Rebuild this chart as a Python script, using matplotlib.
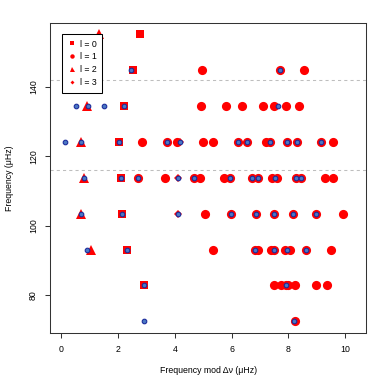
import matplotlib
matplotlib.use("Agg")
import matplotlib.pyplot as plt
from matplotlib.lines import Line2D

plt.rcParams['font.family'] = ['Liberation Sans', 'DejaVu Sans']

# Observed modes, x = frequency mod delta nu, y = echelle row (uHz)
l0_x = [2.77, 2.54, 2.21, 2.02, 2.09, 2.14, 2.32, 2.90]
l0_y = [155.2, 144.8, 134.4, 124.1, 113.7, 103.3, 93.0, 82.8]

l1_x = [4.95, 7.70, 8.55,
        4.92, 5.82, 6.35, 7.09, 7.50, 7.92, 8.39,
        2.83, 3.73, 4.08, 4.98, 5.34, 6.21, 6.55, 7.22, 7.35, 7.97, 8.31, 9.14, 9.58,
        2.71, 3.64, 4.68, 4.88, 5.73, 5.93, 6.71, 6.93, 7.43, 7.61, 8.26, 8.46, 9.29, 9.56,
        5.08, 5.98, 6.85, 7.50, 8.15, 8.98, 9.92,
        5.34, 6.82, 6.94, 7.38, 7.50, 7.88, 8.05, 8.62, 9.50,
        7.49, 7.73, 7.91, 7.99, 8.23, 8.97, 9.36,
        8.24]
l1_y = ([144.8] * 3 + [134.4] * 7 + [124.1] * 13 + [113.7] * 14 +
        [103.3] * 7 + [93.0] * 9 + [82.8] * 7 + [72.4])

l2_x = [1.34, 0.92, 0.69, 0.79, 0.69, 1.04]
l2_y = [155.2, 134.4, 124.1, 113.7, 103.3, 93.0]

l3_x = [4.18, 4.11, 4.11]
l3_y = [124.1, 113.7, 103.3]

# Model frequencies
model_x = [2.44, 7.71,
           0.52, 0.93, 1.51, 2.21, 7.62,
           0.13, 0.69, 2.02, 3.73, 4.18, 6.21, 6.55, 7.35, 7.97, 8.31, 9.14,
           0.79, 2.09, 2.71, 4.11, 4.68, 5.93, 6.71, 6.93, 7.52, 8.26, 8.46,
           0.69, 2.14, 4.11, 5.98, 6.85, 7.50, 8.15, 8.98,
           0.89, 2.32, 6.82, 7.50, 7.95, 8.62,
           2.90, 7.91,
           2.90, 8.20]
model_y = ([144.8] * 2 + [134.4] * 5 + [124.1] * 11 + [113.7] * 11 +
           [103.3] * 8 + [93.0] * 6 + [82.8] * 2 + [72.4] * 2)

guide_lines = [141.9, 116.0]
legend_labels = ['l = 0', 'l = 1', 'l = 2', 'l = 3']

RED = '#FF0000'
BLUE_FILL = '#4A78C4'
BLUE_EDGE = '#1C2D9C'
FS = 6.3

fig = plt.figure(figsize=(3.9, 3.9), dpi=100)
ax = fig.add_axes([0.128, 0.145, 0.81, 0.795])

for y in guide_lines:
    ax.axhline(y, color='#BEBEBE', lw=0.75, dashes=(3, 3), zorder=1)

ax.plot(l1_x, l1_y, 'o', color=RED, ms=6.6, mew=0, zorder=2)
ax.plot(l0_x, l0_y, 's', color=RED, ms=6.2, mew=0, zorder=2)
ax.plot(l2_x, l2_y, '^', color=RED, ms=7.2, mew=0, zorder=2)
ax.plot(l3_x, l3_y, 'D', color=RED, ms=4.4, mew=0, zorder=2)

ax.plot(model_x, model_y, 'o', color=BLUE_FILL, mec=BLUE_EDGE, ms=3.3, mew=0.8, zorder=3)

ax.set_xlim(-0.4, 10.73)
ax.set_ylim(68.93, 158.27)
ax.set_xticks([0, 2, 4, 6, 8, 10])
ax.set_yticks([80, 100, 120, 140])

for s in ax.spines.values():
    s.set_linewidth(0.75)
    s.set_color('#333333')
ax.tick_params(direction='out', length=3.6, width=0.75, color='#333333',
               labelsize=FS, pad=5)
ax.tick_params(axis='y', labelrotation=90)
for lab in ax.get_yticklabels():
    lab.set_va('center')

fig.text(0.535, 0.051, 'Frequency mod Δν (μHz)', ha='center', va='center', fontsize=FS)
fig.text(0.024, 0.543, 'Frequency (μHz)', ha='center', va='center', rotation=90, fontsize=FS)

handles = [
    Line2D([], [], ls='', marker='s', color=RED, ms=2.8, mew=0),
    Line2D([], [], ls='', marker='o', color=RED, ms=3.2, mew=0),
    Line2D([], [], ls='', marker='^', color=RED, ms=3.6, mew=0),
    Line2D([], [], ls='', marker='D', color=RED, ms=2.0, mew=0),
]
leg = ax.legend(handles, legend_labels, loc='upper left', bbox_to_anchor=(0.038, 0.965),
                fontsize=FS, fancybox=False, framealpha=1, edgecolor='black',
                handlelength=1.0, handletextpad=0.5, labelspacing=0.45,
                borderpad=0.6, borderaxespad=0)
leg.get_frame().set_linewidth(0.75)

fig.savefig('out.png', dpi=100)
